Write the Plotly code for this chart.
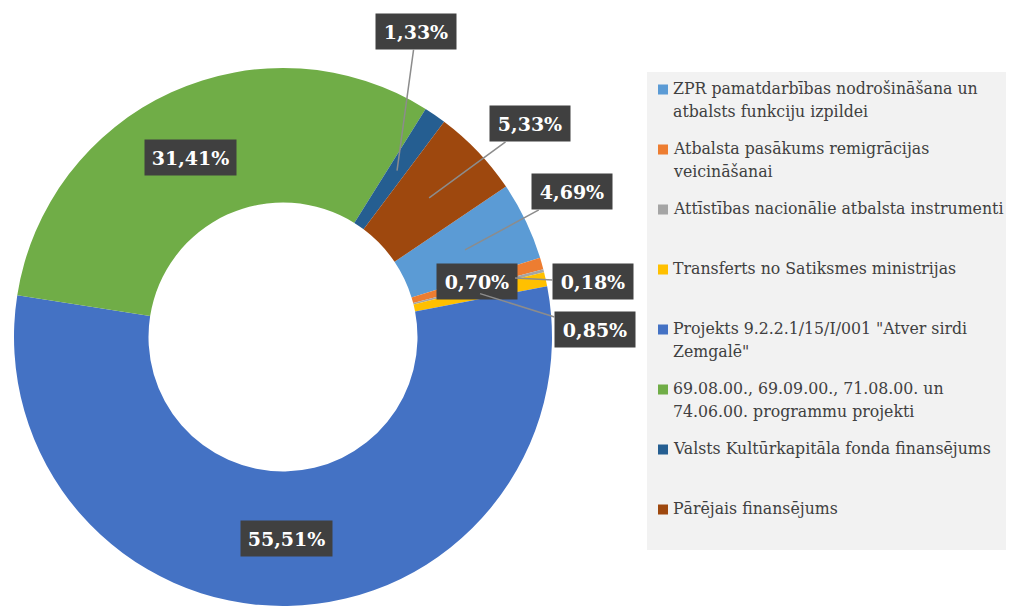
import math
import plotly.graph_objects as go

# ---------------- data ----------------
categories = [
    "ZPR pamatdarbības nodrošināšana un atbalsts funkciju izpildei",
    "Atbalsta pasākums remigrācijas veicināšanai",
    "Attīstības nacionālie atbalsta instrumenti",
    "Transferts no Satiksmes ministrijas",
    "Projekts 9.2.2.1/15/I/001 \"Atver sirdi Zemgalē\"",
    "69.08.00., 69.09.00., 71.08.00. un 74.06.00. programmu projekti",
    "Valsts Kultūrkapitāla fonda finansējums",
    "Pārējais finansējums",
]
legend_text = [
    "ZPR pamatdarbības nodrošināšana un<br>atbalsts funkciju izpildei",
    "Atbalsta pasākums remigrācijas<br>veicināšanai",
    "Attīstības nacionālie atbalsta instrumenti",
    "Transferts no Satiksmes ministrijas",
    "Projekts 9.2.2.1/15/I/001 \"Atver sirdi<br>Zemgalē\"",
    "69.08.00., 69.09.00., 71.08.00. un<br>74.06.00. programmu projekti",
    "Valsts Kultūrkapitāla fonda finansējums",
    "Pārējais finansējums",
]
values = [4.69, 0.70, 0.18, 0.85, 55.51, 31.41, 1.33, 5.33]

# ---------------- style ----------------
colors = ["#5B9BD5", "#ED7D31", "#A5A5A5", "#FFC000",
          "#4472C4", "#70AD47", "#255E91", "#9E480E"]

PAGE_W, PAGE_H = 1014, 606
OFF = 8                              # default body margin of the html page
W, H = PAGE_W - OFF, PAGE_H - OFF    # figure size
CX, CY, R = 283, 337, 269            # donut centre / radius in page pixels
HOLE = 0.5
ROT = 56                             # start angle of first slice (deg, clockwise from 12h)

# per-slice label placement: (anchor radius fraction, dx px, dy px, leader line)
label_place = [
    (0.75, 107, -58, True),
    (0.75, 0, 0, False),
    (0.89, 78, 4, True),
    (0.75, 115, 36, True),
    (0.75, 0, 0, False),
    (0.75, -9, 4, False),
    (0.75, 19, -139, True),
    (0.75, 101, -74, True),
]

LABEL_FONT = "DejaVu Serif"
LEGEND_FONT = "DejaVu Serif Condensed"


def px(x):
    return (x - OFF) / W


def py(y):
    return 1 - (y - OFF) / H


fig = go.Figure()
fig.add_trace(go.Pie(
    labels=categories, values=values, hole=HOLE, sort=False,
    direction="clockwise", rotation=ROT,
    marker=dict(colors=colors, line=dict(width=0)),
    textinfo="none", showlegend=False,
    domain=dict(x=[px(CX - R), px(CX + R)], y=[max(0, py(CY + R)), py(CY - R)]),
))

annotations = []
shapes = []

# data labels
total = sum(values)
cum = 0.0
for v, (rf, dx, dy, arrow) in zip(values, label_place):
    mid = ROT + (cum + v / 2) / total * 360
    cum += v
    a = math.radians(mid)
    ax_ = CX + rf * R * math.sin(a)
    ay_ = CY - rf * R * math.cos(a)
    txt = f"{v:.2f}".replace(".", ",") + "%"
    bw = 80 if len(txt) <= 5 else 91
    common = dict(
        text=f"<b>{txt}</b>", xref="paper", yref="paper",
        font=dict(family=LABEL_FONT, size=19, color="white"),
        bgcolor="#404040", width=bw, height=35, borderpad=0,
    )
    if arrow:
        annotations.append(dict(
            x=px(ax_), y=py(ay_), ax=dx, ay=dy, showarrow=True,
            arrowhead=0, arrowwidth=1.5, arrowcolor="#8C8C8C", standoff=0,
            **common))
    else:
        annotations.append(dict(
            x=px(ax_ + dx), y=py(ay_ + dy), showarrow=False,
            xanchor="center", yanchor="middle", **common))

# manual legend
shapes.append(dict(type="rect", xref="paper", yref="paper",
                   x0=px(647), x1=px(1013), y0=py(550), y1=py(72),
                   fillcolor="#F2F2F2", line=dict(width=0), layer="below"))
for i, (lt, c) in enumerate(zip(legend_text, colors)):
    yc = 89.5 + 60 * i
    shapes.append(dict(type="rect", xref="paper", yref="paper",
                       x0=px(658), x1=px(668), y0=py(yc + 5), y1=py(yc - 5),
                       fillcolor=c, line=dict(width=0)))
    annotations.append(dict(
        text=lt, xref="paper", yref="paper", x=px(672), y=py(yc - 12.5),
        xanchor="left", yanchor="top", align="left", showarrow=False,
        borderpad=0, font=dict(family=LEGEND_FONT, size=17.5, color="#404040")))

fig.update_layout(
    width=W, height=H,
    margin=dict(l=0, r=0, t=0, b=0),
    font=dict(family=LABEL_FONT),
    paper_bgcolor="white", plot_bgcolor="white",
    annotations=annotations, shapes=shapes,
)

fig.write_html("out.html")
